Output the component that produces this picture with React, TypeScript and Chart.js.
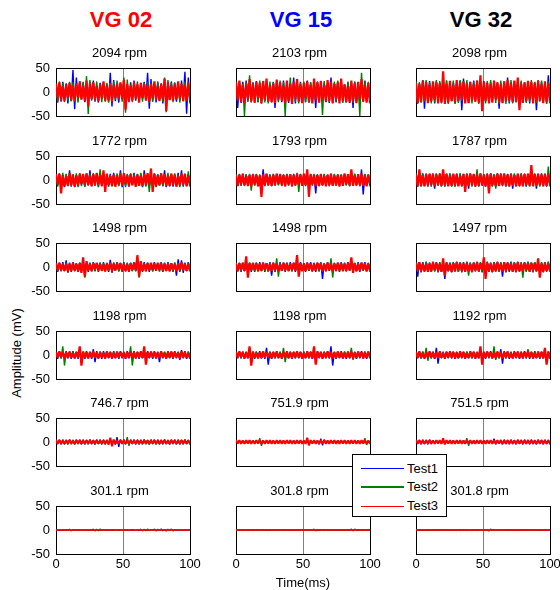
import React, { useEffect, useRef } from "react";
import { Chart, registerables } from "chart.js";

Chart.register(...registerables);

const FONT = "'Liberation Sans', Arial, Helvetica, sans-serif";

// ---------------- data ----------------
const groupNames = ["VG 02", "VG 15", "VG 32"];
const speedsVG02 = ["2094", "1772", "1498", "1198", "746.7", "301.1"];
const speedsVG15 = ["2103", "1793", "1498", "1198", "751.9", "301.8"];
const speedsVG32 = ["2098", "1787", "1497", "1192", "751.5", "301.8"];
const testNames = ["Test1", "Test2", "Test3"];
const yTickValues = [-50, 0, 50];
const xTickValues = [0, 50, 100];
const yLabel = "Amplitude (mV)";
const xLabel = "Time(ms)";
const SAMPLE_COUNT = 80;
// sample instants (ms) of the 80 recorded samples in each 100 ms trace
const timeMs = Array.from({ length: SAMPLE_COUNT }, (_, i) => (i * 100) / (SAMPLE_COUNT - 1));

// ---- VG 02 ----
const vg02_2094_t1 = [
  19, -22, 15, -20, 21, -14, 18, -24, 16, -19,
  46, -36, 30, -18, 22, -15, 20, -21, 14, -19,
  21, -16, 24, -20, 15, -22, 19, -14, 20, -18,
  16, -21, 40, -30, 25, -19, 14, -22, 18, -15,
  22, -19, 16, -21, 20, -14, 24, -18, 15, -20,
  19, -15, 21, -16, 40, -35, 27, -20, 16, -22,
  20, -14, 18, -24, 15, -19, 21, -16, 22, -15,
  14, -20, 19, -18, 24, -16, 42, -45, 30, -24];
const vg02_2094_t2 = [
  16, -20, 22, -15, 19, -21, 14, -18, 21, -19,
  20, -16, 15, -22, 18, -14, 21, -19, 33, -46,
  25, -18, 20, -15, 22, -19, 16, -21, 14, -20,
  19, -22, 15, -18, 21, -16, 24, -14, 18, -20,
  30, -43, 26, -19, 16, -21, 20, -15, 22, -18,
  15, -20, 19, -16, 21, -22, 14, -19, 18, -15,
  22, -18, 16, -20, 30, -42, 25, -16, 19, -21,
  20, -15, 18, -22, 14, -19, 21, -16, 15, -20];
const vg02_2094_t3 = [
  17, -13, 20, -18, 12, -19, 16, -11, 19, -17,
  14, -20, 18, -12, 22, -16, 13, -19, 24, -30,
  18, -14, 20, -17, 11, -19, 16, -13, 22, -18,
  13, -17, 19, -20, 14, -12, 18, -16, 20, -14,
  26, -37, 17, -19, 13, -18, 20, -14, 16, -22,
  19, -12, 17, -18, 14, -20, 18, -13, 22, -16,
  12, -19, 17, -14, 28, -40, 20, -17, 13, -18,
  18, -16, 22, -13, 17, -19, 14, -18, 20, -17];
const vg02_1772_t1 = [
  13, -11, 14, -12, 10, -15, 12, -13, 20, -14,
  12, -15, 11, -13, 14, -10, 13, -14, 12, -11,
  20, -13, 14, -12, 11, -15, 13, -10, 14, -12,
  12, -14, 13, -11, 15, -13, 10, -12, 20, -15,
  14, -12, 11, -14, 13, -10, 15, -13, 12, -11,
  13, -15, 20, -12, 11, -14, 13, -10, 14, -13,
  12, -11, 14, -13, 20, -15, 11, -12, 13, -14,
  10, -13, 15, -12, 20, -14, 12, -11, 13, -12];
const vg02_1772_t2 = [
  12, -14, 11, -13, 15, -12, 13, -11, 14, -13,
  11, -12, 14, -15, 12, -13, 10, -14, 13, -12,
  14, -11, 13, -12, 15, -14, 22, -13, 11, -15,
  13, -12, 10, -14, 12, -11, 14, -13, 15, -12,
  11, -15, 13, -12, 14, -10, 12, -14, 13, -11,
  15, -13, 12, -14, 11, -25, 13, -12, 14, -15,
  12, -11, 14, -13, 10, -12, 15, -14, 13, -11,
  14, -12, 11, -15, 13, -12, 14, -13, 18, -14];
const vg02_1772_t3 = [
  12, -9, 13, -28, 10, -13, 8, -12, 14, -10,
  11, -14, 9, -12, 13, -8, 12, -11, 14, -10,
  9, -13, 12, -10, 14, -9, 11, -13, 20, -25,
  13, -10, 8, -12, 11, -14, 10, -9, 13, -11,
  14, -8, 10, -13, 12, -11, 9, -14, 11, -12,
  8, -12, 13, -10, 14, -9, 24, -25, 12, -13,
  10, -11, 14, -8, 12, -13, 9, -12, 13, -10,
  11, -14, 8, -11, 13, -9, 12, -13, 10, -12];
const vg02_1498_t1 = [
  9, -10, 8, -9, 10, -8, 14, -12, 9, -10,
  10, -9, 8, -10, 9, -8, 10, -9, 8, -10,
  9, -8, 10, -9, 8, -10, 9, -8, 10, -9,
  8, -10, 15, -12, 9, -8, 10, -9, 8, -10,
  10, -9, 8, -10, 9, -8, 10, -9, 8, -10,
  9, -10, 10, -8, 9, -10, 8, -9, 10, -8,
  8, -9, 10, -10, 9, -8, 10, -9, 8, -10,
  9, -18, 16, -10, 14, -12, 9, -8, 10, -9];
const vg02_1498_t2 = [
  8, -9, 9, -8, 8, -9, 9, -8, 8, -9,
  9, -8, 8, -9, 9, -8, 10, -22, 9, -8,
  8, -9, 9, -8, 8, -9, 9, -8, 8, -9,
  9, -8, 8, -9, 9, -8, 8, -9, 9, -8,
  8, -9, 9, -8, 8, -9, 9, -8, 10, -22,
  9, -8, 8, -9, 9, -8, 8, -9, 9, -8,
  8, -9, 9, -8, 8, -9, 9, -8, 8, -9,
  9, -8, 8, -9, 9, -8, 8, -9, 9, -8];
const vg02_1498_t3 = [
  8, -6, 9, -7, 5, -8, 7, -9, 6, -8,
  9, -7, 6, -9, 8, -12, 20, -20, 12, -7,
  6, -9, 8, -5, 9, -7, 7, -8, 5, -9,
  8, -6, 9, -8, 6, -7, 9, -5, 8, -9,
  7, -8, 5, -9, 8, -6, 9, -7, 25, -20,
  12, -8, 6, -9, 8, -7, 9, -6, 7, -8,
  9, -5, 8, -9, 6, -8, 7, -9, 8, -6,
  5, -9, 8, -7, 9, -6, 7, -8, 6, -9];
const vg02_1198_t1 = [
  7, -8, 8, -7, 7, -8, 8, -7, 7, -8,
  8, -7, 7, -8, 8, -7, 7, -8, 8, -7,
  7, -8, 12, -15, 8, -7, 7, -8, 8, -7,
  8, -7, 7, -8, 8, -7, 7, -8, 8, -7,
  7, -8, 8, -7, 7, -8, 8, -7, 7, -8,
  8, -7, 7, -8, 8, -7, 7, -8, 8, -7,
  7, -15, 8, -7, 7, -8, 8, -7, 7, -8,
  8, -7, 7, -10, 10, -7, 8, -8, 7, -8];
const vg02_1198_t2 = [
  7, -6, 6, -7, 18, -22, 7, -6, 6, -7,
  7, -6, 6, -7, 7, -6, 6, -7, 7, -6,
  6, -7, 7, -6, 6, -7, 7, -6, 6, -7,
  7, -6, 6, -7, 7, -6, 6, -7, 7, -6,
  6, -7, 7, -6, 18, -22, 7, -6, 6, -7,
  7, -6, 6, -7, 7, -6, 6, -7, 7, -6,
  6, -7, 7, -6, 6, -7, 7, -6, 6, -7,
  7, -6, 6, -7, 7, -6, 6, -7, 7, -6];
const vg02_1198_t3 = [
  6, -5, 7, -4, 6, -7, 5, -6, 7, -5,
  4, -7, 6, -5, 18, -22, 7, -6, 5, -7,
  6, -4, 7, -6, 5, -7, 6, -5, 4, -7,
  7, -5, 6, -7, 4, -6, 7, -5, 6, -4,
  5, -7, 6, -6, 7, -4, 5, -7, 6, -5,
  7, -6, 18, -20, 6, -5, 7, -4, 6, -7,
  5, -6, 7, -5, 4, -7, 6, -5, 7, -6,
  6, -4, 5, -7, 7, -5, 6, -6, 4, -7];
const vg02_747_t1 = [
  5, -4, 4, -5, 5, -4, 4, -5, 5, -4,
  4, -5, 5, -4, 4, -5, 5, -4, 4, -5,
  5, -4, 4, -5, 5, -4, 4, -5, 5, -4,
  4, -5, 5, -4, 4, -5, 10, -10, 5, -4,
  5, -4, 4, -5, 5, -4, 4, -5, 5, -4,
  4, -5, 5, -4, 4, -5, 5, -4, 4, -5,
  5, -4, 4, -5, 5, -4, 4, -5, 5, -4,
  4, -5, 5, -4, 4, -5, 5, -4, 4, -5];
const vg02_747_t2 = [
  4, -4, 5, -4, 4, -5, 4, -4, 5, -4,
  4, -5, 4, -4, 5, -4, 4, -5, 4, -4,
  5, -4, 4, -5, 4, -4, 5, -4, 4, -5,
  4, -4, 5, -4, 4, -5, 4, -4, 5, -4,
  4, -5, 10, -8, 4, -4, 5, -4, 4, -5,
  4, -4, 5, -4, 4, -5, 4, -4, 5, -4,
  4, -5, 4, -4, 5, -4, 4, -5, 4, -4,
  5, -4, 4, -5, 4, -4, 5, -4, 4, -5];
const vg02_747_t3 = [
  4, -3, 4, -4, 3, -4, 4, -3, 4, -4,
  3, -4, 4, -3, 4, -4, 3, -4, 4, -3,
  4, -4, 3, -4, 4, -3, 4, -4, 3, -4,
  4, -5, 9, -9, 5, -4, 3, -4, 4, -3,
  4, -4, 3, -4, 4, -3, 4, -4, 3, -4,
  4, -3, 4, -4, 3, -4, 4, -3, 4, -4,
  3, -4, 4, -3, 4, -4, 3, -4, 4, -3,
  4, -4, 3, -4, 4, -3, 4, -4, 3, -4];
const vg02_301_t1 = [
  0.5, -0.4, 0.4, -0.5, 0.5, -0.4, 0.4, -0.5, 1.5, -1.5,
  0.4, -0.5, 0.5, -0.4, 0.4, -0.5, 0.5, -0.4, 0.4, -0.5,
  0.5, -0.4, 0.4, -0.5, 0.5, -0.4, 0.4, -0.5, 0.5, -0.4,
  0.4, -0.5, 0.5, -0.4, 0.4, -0.5, 0.5, -0.4, 0.4, -0.5,
  0.5, -0.4, 0.4, -0.5, 0.5, -0.4, 0.4, -0.5, 0.5, -0.4,
  0.4, -0.5, 0.5, -0.4, 0.4, -0.5, 0.5, -0.4, 2, -2,
  1.5, -1, 2, -1.5, 1, -2, 1.5, -1, 2, -2,
  0.5, -0.4, 0.4, -0.5, 0.5, -0.4, 0.4, -0.5, 0.5, -0.4];
const vg02_301_t2 = [
  0.4, -0.5, 0.5, -0.4, 0.4, -0.5, 0.5, -0.4, 0.4, -0.5,
  0.5, -0.4, 0.4, -0.5, 0.5, -0.4, 0.4, -0.5, 0.5, -0.4,
  0.4, -0.5, 2, -2, 1.5, -1.5, 2, -0.5, 0.5, -0.4,
  0.4, -0.5, 0.5, -0.4, 0.4, -0.5, 0.5, -0.4, 0.4, -0.5,
  0.5, -0.4, 0.4, -0.5, 0.5, -0.4, 0.4, -0.5, 0.5, -0.4,
  2, -2, 1.5, -1.5, 2, -0.5, 0.5, -0.4, 0.4, -0.5,
  0.5, -0.4, 0.4, -0.5, 0.5, -0.4, 0.4, -0.5, 0.5, -0.4,
  0.4, -0.5, 0.5, -0.4, 0.4, -0.5, 0.5, -0.4, 0.4, -0.5];
const vg02_301_t3 = [
  0.3, -0.3, 0.4, -0.3, 0.3, -0.4, 0.3, -0.3, 0.4, -0.3,
  0.3, -0.4, 0.3, -0.3, 0.4, -0.3, 0.3, -0.4, 0.3, -0.3,
  0.4, -0.3, 0.3, -0.4, 0.3, -0.3, 0.4, -0.3, 0.3, -0.4,
  0.3, -0.3, 0.4, -0.3, 0.3, -0.4, 0.3, -0.3, 0.4, -0.3,
  0.3, -0.4, 0.3, -0.3, 0.4, -0.3, 0.3, -0.4, 0.3, -0.3,
  0.4, -0.3, 0.3, -0.4, 0.3, -0.3, 0.4, -0.3, 0.3, -0.4,
  0.3, -0.3, 0.4, -0.3, 0.3, -0.4, 0.3, -0.3, 0.4, -0.3,
  0.3, -0.4, 0.3, -0.3, 0.4, -0.3, 0.3, -0.4, 0.3, -0.3];

// ---- VG 15 ----
const vg15_2103_t1 = [
  22, -33, 19, -23, 21, -17, 24, -20, 18, -22,
  20, -16, 23, -21, 17, -24, 19, -18, 22, -20,
  16, -22, 21, -33, 23, -19, 17, -21, 24, -18,
  19, -23, 15, -20, 30, -24, 20, -17, 21, -23,
  18, -21, 24, -16, 20, -22, 17, -33, 22, -19,
  23, -18, 19, -21, 16, -23, 30, -20, 18, -22,
  21, -17, 24, -19, 15, -22, 20, -23, 18, -33,
  22, -19, 17, -23, 21, -18, 24, -20, 16, -22];
const vg15_2103_t2 = [
  21, -18, 23, -20, 17, -50, 22, -19, 35, -21,
  19, -23, 16, -21, 24, -18, 20, -22, 17, -24,
  22, -17, 20, -23, 18, -21, 24, -16, 21, -50,
  23, -19, 30, -22, 17, -20, 21, -24, 19, -18,
  22, -21, 16, -23, 20, -18, 24, -17, 21, -22,
  18, -48, 23, -20, 19, -22, 17, -24, 22, -19,
  24, -18, 21, -23, 16, -20, 22, -19, 18, -23,
  20, -22, 17, -50, 40, -21, 23, -18, 21, -20];
const vg15_2103_t3 = [
  20, -17, 24, -21, 15, -23, 18, -14, 27, -19,
  16, -22, 21, -13, 19, -24, 23, -16, 28, -20,
  14, -21, 18, -23, 26, -15, 20, -18, 13, -22,
  24, -19, 17, -25, 21, -14, 27, -20, 16, -23,
  19, -13, 22, -21, 15, -24, 28, -17, 20, -22,
  23, -16, 14, -20, 25, -18, 21, -23, 17, -15,
  20, -24, 28, -19, 16, -21, 13, -22, 24, -18,
  18, -23, 21, -14, 27, -20, 15, -22, 19, -24];
const vg15_1793_t1 = [
  12, -13, 11, -12, 13, -10, 12, -13, 11, -12,
  13, -11, 12, -13, 10, -12, 22, -13, 12, -11,
  11, -13, 13, -12, 12, -11, 13, -10, 12, -13,
  12, -12, 11, -13, 13, -11, 12, -12, 13, -10,
  11, -13, 12, -11, 13, -12, 10, -28, 12, -13,
  13, -11, 12, -12, 11, -13, 13, -12, 12, -11,
  12, -13, 11, -12, 13, -10, 12, -13, 11, -12,
  13, -11, 12, -13, 22, -30, 12, -12, 11, -13];
const vg15_1793_t2 = [
  12, -11, 13, -12, 11, -13, 12, -10, 13, -22,
  11, -12, 13, -11, 12, -13, 10, -12, 13, -11,
  12, -13, 11, -12, 13, -10, 12, -13, 11, -12,
  13, -11, 12, -13, 11, -12, 15, -25, 12, -11,
  13, -12, 11, -13, 12, -10, 13, -12, 11, -13,
  12, -11, 13, -12, 10, -13, 12, -11, 13, -12,
  11, -13, 12, -10, 13, -12, 11, -13, 12, -11,
  13, -12, 11, -13, 12, -11, 13, -10, 12, -13];
const vg15_1793_t3 = [
  10, -12, 11, -9, 13, -11, 8, -12, 10, -13,
  12, -9, 11, -13, 9, -35, 12, -10, 13, -11,
  9, -12, 11, -10, 13, -8, 12, -11, 10, -13,
  11, -9, 12, -13, 10, -11, 13, -9, 11, -12,
  13, -10, 22, -35, 12, -9, 11, -13, 10, -12,
  12, -11, 9, -13, 11, -10, 13, -12, 9, -11,
  11, -13, 10, -12, 13, -9, 12, -11, 22, -12,
  9, -11, 12, -10, 13, -12, 10, -13, 11, -9];
const vg15_1498_t1 = [
  10, -9, 9, -10, 8, -9, 10, -8, 9, -10,
  8, -10, 9, -9, 10, -8, 9, -10, 8, -9,
  10, -18, 9, -10, 8, -9, 10, -8, 9, -10,
  9, -8, 10, -9, 8, -10, 9, -9, 10, -8,
  8, -10, 9, -8, 10, -9, 8, -10, 9, -9,
  10, -25, 8, -9, 10, -8, 9, -10, 8, -9,
  9, -10, 10, -8, 9, -9, 10, -8, 9, -10,
  8, -9, 10, -10, 9, -8, 10, -9, 8, -10];
const vg15_1498_t2 = [
  9, -8, 8, -9, 9, -8, 8, -9, 9, -8,
  8, -9, 9, -8, 8, -9, 9, -8, 8, -9,
  9, -8, 8, -9, 18, -20, 9, -8, 8, -9,
  9, -8, 8, -9, 9, -8, 8, -9, 9, -8,
  8, -9, 9, -8, 8, -9, 9, -8, 8, -9,
  9, -8, 8, -9, 9, -8, 18, -22, 9, -8,
  8, -9, 9, -8, 8, -9, 9, -8, 8, -9,
  9, -8, 8, -9, 9, -8, 8, -9, 9, -8];
const vg15_1498_t3 = [
  7, -9, 8, -6, 9, -8, 22, -22, 8, -7,
  9, -6, 8, -9, 7, -8, 9, -5, 8, -9,
  6, -8, 9, -7, 8, -9, 5, -8, 9, -7,
  8, -9, 7, -6, 9, -8, 25, -20, 8, -9,
  7, -8, 9, -6, 8, -9, 7, -8, 9, -5,
  8, -9, 6, -8, 9, -7, 8, -9, 7, -8,
  9, -7, 8, -9, 6, -8, 9, -7, 20, -12,
  8, -9, 7, -8, 9, -6, 8, -9, 7, -8];
const vg15_1198_t1 = [
  7, -7, 8, -7, 7, -8, 7, -7, 8, -7,
  7, -8, 7, -7, 8, -7, 7, -8, 15, -20,
  7, -8, 7, -7, 8, -7, 7, -8, 7, -7,
  8, -7, 7, -8, 7, -7, 8, -7, 7, -8,
  7, -7, 8, -7, 7, -8, 7, -7, 8, -7,
  7, -8, 7, -7, 8, -7, 18, -22, 7, -8,
  7, -7, 8, -7, 7, -8, 7, -7, 8, -7,
  7, -8, 7, -7, 8, -7, 7, -8, 7, -7];
const vg15_1198_t2 = [
  7, -6, 6, -7, 7, -6, 6, -7, 7, -6,
  6, -7, 7, -6, 6, -7, 7, -6, 6, -7,
  7, -6, 6, -7, 7, -6, 6, -7, 15, -15,
  6, -7, 7, -6, 6, -7, 7, -6, 6, -7,
  7, -6, 6, -7, 7, -6, 6, -7, 7, -6,
  6, -7, 7, -6, 6, -7, 7, -6, 6, -7,
  7, -6, 6, -7, 7, -6, 6, -7, 15, -10,
  6, -7, 7, -6, 6, -7, 7, -6, 6, -7];
const vg15_1198_t3 = [
  6, -5, 7, -4, 6, -7, 5, -6, 18, -22,
  7, -5, 4, -7, 6, -6, 7, -5, 6, -4,
  5, -7, 6, -5, 7, -6, 4, -7, 6, -5,
  7, -6, 5, -7, 6, -4, 7, -5, 6, -7,
  4, -6, 7, -5, 6, -7, 18, -20, 7, -5,
  6, -7, 5, -6, 7, -4, 6, -7, 5, -6,
  7, -5, 6, -7, 4, -6, 7, -5, 6, -7,
  5, -6, 7, -4, 6, -7, 5, -6, 7, -5];
const vg15_752_t1 = [
  2, -2, 2, -2, 2, -2, 2, -2, 2, -2,
  2, -2, 2, -2, 2, -2, 2, -2, 2, -2,
  2, -2, 2, -2, 2, -2, 2, -2, 2, -2,
  2, -2, 2, -2, 2, -2, 2, -2, 2, -2,
  2, -2, 2, -2, 2, -2, 2, -2, 2, -5,
  7, -7, 5, -2, 2, -2, 2, -2, 2, -2,
  2, -2, 2, -2, 2, -2, 2, -2, 2, -2,
  2, -2, 2, -2, 2, -2, 2, -2, 2, -2];
const vg15_752_t2 = [
  2, -2, 2, -2, 2, -2, 2, -2, 2, -2,
  2, -2, 2, -2, 8, -8, 2, -2, 2, -2,
  2, -2, 2, -2, 2, -2, 2, -2, 2, -2,
  2, -2, 2, -2, 2, -2, 2, -2, 2, -2,
  2, -2, 2, -2, 2, -2, 2, -2, 2, -2,
  2, -2, 2, -2, 2, -2, 2, -2, 2, -2,
  2, -2, 2, -2, 2, -2, 2, -2, 2, -2,
  2, -2, 2, -2, 2, -2, 8, -6, 2, -2];
const vg15_752_t3 = [
  4, -3, 4, -4, 3, -4, 4, -3, 4, -4,
  3, -4, 4, -3, 4, -4, 3, -4, 4, -3,
  4, -4, 3, -4, 4, -3, 4, -4, 3, -4,
  4, -3, 4, -4, 3, -4, 4, -3, 4, -4,
  3, -4, 9, -7, 4, -3, 4, -4, 3, -4,
  4, -3, 4, -4, 3, -4, 4, -3, 4, -4,
  3, -4, 4, -3, 4, -4, 3, -4, 4, -3,
  4, -4, 3, -4, 4, -3, 4, -4, 3, -4];
const vg15_302_t1 = [
  0.4, -0.4, 0.4, -0.4, 0.4, -0.4, 0.4, -0.4, 0.4, -0.4,
  0.4, -0.4, 0.4, -0.4, 0.4, -0.4, 0.4, -0.4, 0.4, -0.4,
  0.4, -0.4, 0.4, -0.4, 0.4, -0.4, 0.4, -0.4, 0.4, -0.4,
  0.4, -0.4, 0.4, -0.4, 0.4, -0.4, 0.4, -0.4, 0.4, -0.4,
  0.4, -0.4, 0.4, -0.4, 0.4, -0.4, 0.4, -0.4, 0.4, -0.4,
  0.4, -0.4, 0.4, -0.4, 0.4, -0.4, 0.4, -0.4, 0.4, -0.4,
  0.4, -0.4, 0.4, -0.4, 0.4, -0.4, 0.4, -0.4, 2, -2,
  2, -0.4, 0.4, -0.4, 0.4, -0.4, 0.4, -0.4, 0.4, -0.4];
const vg15_302_t2 = [
  0.4, -0.4, 0.4, -0.4, 0.4, -0.4, 0.4, -0.4, 0.4, -0.4,
  0.4, -0.4, 0.4, -0.4, 0.4, -0.4, 0.4, -0.4, 0.4, -0.4,
  0.4, -0.4, 0.4, -0.4, 0.4, -0.4, 0.4, -0.4, 0.4, -0.4,
  0.4, -0.4, 0.4, -0.4, 0.4, -0.4, 0.4, -0.4, 0.4, -0.4,
  0.4, -0.4, 0.4, -0.4, 0.4, -0.4, 2, -2, 0.4, -0.4,
  0.4, -0.4, 0.4, -0.4, 0.4, -0.4, 0.4, -0.4, 0.4, -0.4,
  0.4, -0.4, 0.4, -0.4, 0.4, -0.4, 0.4, -0.4, 0.4, -0.4,
  0.4, -0.4, 0.4, -0.4, 0.4, -0.4, 0.4, -0.4, 0.4, -0.4];
const vg15_302_t3 = [
  0.3, -0.3, 0.4, -0.3, 0.3, -0.4, 0.3, -0.3, 0.4, -0.3,
  0.3, -0.4, 0.3, -0.3, 0.4, -0.3, 0.3, -0.4, 0.3, -0.3,
  0.4, -0.3, 0.3, -0.4, 0.3, -0.3, 0.4, -0.3, 0.3, -0.4,
  0.3, -0.3, 0.4, -0.3, 0.3, -0.4, 0.3, -0.3, 0.4, -0.3,
  0.3, -0.4, 0.3, -0.3, 0.4, -0.3, 0.3, -0.4, 0.3, -0.3,
  0.4, -0.3, 0.3, -0.4, 0.3, -0.3, 0.4, -0.3, 0.3, -0.4,
  0.3, -0.3, 0.4, -0.3, 0.3, -0.4, 0.3, -0.3, 0.4, -0.3,
  0.3, -0.4, 0.3, -0.3, 0.4, -0.3, 0.3, -0.4, 0.3, -0.3];

// ---- VG 32 ----
const vg32_2098_t1 = [
  21, -23, 19, -22, 25, -35, 22, -18, 23, -20,
  18, -24, 22, -19, 20, -23, 17, -21, 24, -19,
  22, -18, 20, -24, 19, -21, 23, -38, 28, -20,
  17, -23, 21, -19, 24, -18, 20, -22, 19, -24,
  23, -20, 18, -22, 21, -19, 24, -17, 20, -35,
  19, -23, 22, -18, 30, -24, 20, -21, 17, -22,
  24, -19, 21, -23, 18, -20, 22, -24, 19, -21,
  20, -38, 23, -18, 21, -22, 19, -24, 35, -23];
const vg32_2098_t2 = [
  23, -25, 20, -22, 24, -19, 25, -23, 21, -24,
  19, -22, 25, -20, 23, -24, 18, -21, 24, -25,
  22, -19, 24, -25, 20, -23, 25, -18, 23, -21,
  25, -23, 19, -24, 22, -20, 24, -25, 21, -19,
  20, -24, 23, -21, 25, -19, 22, -23, 18, -25,
  24, -20, 21, -25, 19, -22, 25, -24, 23, -18,
  22, -25, 24, -19, 20, -23, 18, -21, 25, -22,
  21, -23, 25, -20, 24, -22, 19, -25, 22, -24];
const vg32_2098_t3 = [
  19, -22, 16, -20, 24, -17, 21, -23, 15, -19,
  22, -16, 20, -24, 18, -21, 43, -25, 17, -22,
  23, -19, 15, -21, 25, -18, 20, -16, 22, -24,
  18, -23, 21, -17, 16, -20, 24, -22, 35, -40,
  21, -18, 19, -24, 17, -22, 23, -15, 20, -21,
  16, -23, 22, -19, 25, -17, 18, -21, 24, -20,
  30, -38, 17, -22, 20, -19, 23, -16, 21, -24,
  19, -21, 24, -18, 16, -23, 22, -20, 18, -22];
const vg32_1787_t1 = [
  13, -14, 12, -13, 14, -12, 13, -14, 12, -13,
  14, -18, 13, -12, 14, -13, 12, -14, 13, -12,
  14, -13, 12, -14, 13, -12, 14, -13, 12, -14,
  13, -18, 14, -12, 13, -14, 12, -13, 14, -12,
  12, -14, 13, -12, 14, -13, 12, -14, 13, -12,
  14, -13, 12, -14, 13, -12, 14, -18, 12, -13,
  13, -12, 14, -13, 12, -14, 13, -12, 14, -13,
  12, -18, 13, -12, 14, -13, 12, -14, 13, -12];
const vg32_1787_t2 = [
  14, -12, 13, -14, 12, -13, 14, -12, 13, -14,
  12, -13, 14, -12, 13, -14, 12, -13, 14, -12,
  13, -14, 12, -13, 14, -12, 13, -14, 12, -13,
  14, -12, 13, -14, 12, -13, 22, -14, 13, -12,
  12, -13, 14, -12, 13, -14, 12, -18, 14, -13,
  13, -12, 14, -13, 12, -14, 13, -12, 14, -13,
  12, -14, 13, -12, 14, -13, 12, -14, 13, -12,
  14, -13, 12, -14, 13, -12, 14, -13, 28, -14];
const vg32_1787_t3 = [
  11, -13, 22, -12, 10, -13, 12, -11, 13, -9,
  12, -13, 11, -10, 13, -12, 22, -11, 12, -13,
  10, -12, 13, -11, 12, -13, 9, -12, 13, -25,
  12, -11, 13, -10, 12, -13, 11, -12, 13, -10,
  11, -13, 12, -28, 13, -11, 10, -12, 13, -12,
  12, -10, 13, -12, 11, -13, 12, -11, 10, -13,
  13, -12, 11, -13, 12, -10, 13, -12, 31, -13,
  12, -11, 13, -10, 11, -13, 12, -12, 13, -11];
const vg32_1497_t1 = [
  10, -20, 9, -11, 10, -9, 11, -10, 9, -10,
  11, -9, 10, -11, 9, -10, 11, -25, 10, -9,
  9, -11, 10, -9, 11, -10, 9, -11, 10, -9,
  11, -10, 9, -11, 10, -9, 11, -10, 9, -11,
  10, -9, 11, -10, 9, -11, 10, -9, 11, -10,
  9, -20, 10, -11, 9, -10, 11, -9, 10, -11,
  11, -10, 9, -11, 10, -9, 11, -10, 9, -11,
  10, -9, 11, -10, 9, -11, 10, -9, 11, -10];
const vg32_1497_t2 = [
  9, -10, 10, -9, 9, -10, 10, -9, 9, -10,
  10, -9, 9, -10, 10, -9, 9, -10, 10, -9,
  9, -10, 10, -9, 9, -10, 10, -9, 9, -10,
  10, -18, 9, -10, 10, -9, 9, -10, 10, -9,
  9, -10, 10, -9, 9, -10, 10, -9, 9, -10,
  10, -9, 9, -10, 10, -9, 9, -10, 10, -9,
  9, -10, 10, -22, 9, -10, 10, -9, 9, -10,
  10, -9, 9, -10, 10, -9, 9, -10, 10, -9];
const vg32_1497_t3 = [
  9, -7, 10, -8, 6, -9, 8, -10, 7, -9,
  10, -6, 9, -8, 7, -10, 18, -18, 9, -8,
  7, -10, 8, -9, 10, -6, 9, -8, 7, -10,
  9, -8, 6, -10, 8, -7, 10, -9, 8, -6,
  20, -25, 9, -8, 7, -10, 8, -9, 10, -7,
  6, -9, 10, -8, 9, -7, 8, -10, 7, -9,
  10, -8, 7, -9, 9, -6, 8, -10, 9, -7,
  8, -9, 18, -22, 7, -10, 9, -8, 6, -9];
const vg32_1192_t1 = [
  7, -7, 8, -7, 7, -8, 7, -7, 8, -7,
  7, -8, 15, -18, 8, -7, 7, -8, 7, -7,
  8, -7, 7, -8, 7, -7, 8, -7, 7, -8,
  7, -7, 8, -7, 7, -8, 7, -7, 8, -7,
  7, -8, 7, -7, 8, -7, 7, -8, 7, -7,
  12, -18, 8, -7, 7, -8, 7, -7, 8, -7,
  7, -8, 7, -7, 8, -7, 7, -8, 7, -7,
  8, -7, 7, -8, 7, -7, 8, -7, 7, -8];
const vg32_1192_t2 = [
  7, -6, 6, -7, 7, -6, 15, -12, 6, -7,
  7, -6, 6, -7, 7, -6, 6, -7, 7, -6,
  6, -7, 7, -6, 6, -7, 7, -6, 6, -7,
  7, -6, 6, -7, 7, -6, 6, -7, 7, -6,
  6, -7, 7, -6, 6, -7, 18, -10, 6, -7,
  7, -6, 6, -7, 7, -6, 6, -7, 7, -6,
  6, -7, 7, -6, 6, -7, 12, -6, 6, -7,
  7, -6, 6, -7, 7, -6, 6, -7, 7, -6];
const vg32_1192_t3 = [
  6, -5, 7, -6, 4, -7, 6, -5, 7, -4,
  5, -7, 6, -6, 7, -5, 4, -7, 6, -5,
  7, -4, 6, -7, 5, -6, 7, -5, 6, -7,
  4, -6, 7, -5, 6, -7, 5, -6, 18, -20,
  6, -5, 7, -4, 6, -7, 5, -6, 7, -5,
  5, -7, 6, -5, 7, -6, 4, -7, 6, -5,
  7, -6, 5, -7, 6, -4, 7, -5, 6, -7,
  4, -6, 7, -5, 6, -7, 15, -20, 7, -6];
const vg32_752_t1 = [
  5, -4, 4, -5, 5, -4, 4, -5, 5, -4,
  3, -3, 3, -3, 3, -3, 3, -3, 3, -3,
  3, -3, 3, -3, 3, -3, 3, -3, 3, -3,
  3, -3, 3, -3, 3, -3, 3, -3, 3, -3,
  3, -3, 3, -3, 3, -3, 7, -5, 3, -3,
  4, -5, 5, -4, 4, -5, 5, -4, 4, -5,
  5, -4, 4, -5, 5, -4, 4, -5, 5, -4,
  4, -5, 5, -4, 4, -5, 5, -4, 4, -5];
const vg32_752_t2 = [
  2, -2, 2, -2, 2, -2, 2, -2, 2, -2,
  2, -2, 2, -2, 2, -2, 2, -2, 2, -2,
  2, -2, 2, -2, 2, -2, 2, -2, 2, -2,
  8, -8, 2, -2, 2, -2, 2, -2, 2, -2,
  2, -2, 2, -2, 2, -2, 2, -2, 2, -2,
  2, -2, 2, -2, 2, -2, 2, -2, 2, -2,
  2, -2, 2, -2, 2, -2, 2, -2, 2, -2,
  2, -2, 2, -2, 2, -2, 2, -2, 2, -2];
const vg32_752_t3 = [
  4, -3, 4, -4, 3, -4, 4, -3, 4, -4,
  3, -4, 4, -3, 4, -4, 8, -5, 4, -3,
  4, -4, 3, -4, 4, -3, 4, -4, 3, -4,
  4, -3, 4, -4, 3, -4, 4, -3, 4, -4,
  3, -4, 4, -3, 4, -4, 3, -4, 4, -3,
  4, -4, 3, -4, 4, -3, 4, -4, 3, -4,
  4, -3, 4, -4, 3, -4, 4, -3, 4, -4,
  3, -4, 4, -3, 4, -4, 3, -4, 4, -3];
const vg32_302_t1 = [
  0.4, -0.4, 0.4, -0.4, 0.4, -0.4, 0.4, -0.4, 0.4, -0.4,
  0.4, -0.4, 0.4, -0.4, 0.4, -0.4, 0.4, -0.4, 0.4, -0.4,
  0.4, -0.4, 0.4, -0.4, 0.4, -0.4, 0.4, -0.4, 0.4, -0.4,
  0.4, -0.4, 0.4, -0.4, 0.4, -0.4, 0.4, -0.4, 0.4, -0.4,
  0.4, -0.4, 0.4, -2, 2, -0.4, 0.4, -0.4, 1, -1,
  0.4, -0.4, 0.4, -0.4, 0.4, -0.4, 0.4, -0.4, 0.4, -0.4,
  0.4, -0.4, 0.4, -0.4, 0.4, -0.4, 0.4, -0.4, 0.4, -0.4,
  0.4, -0.4, 0.4, -0.4, 0.4, -0.4, 0.4, -0.4, 0.4, -0.4];
const vg32_302_t2 = [
  0.4, -0.4, 0.4, -0.4, 0.4, -0.4, 0.4, -0.4, 0.4, -0.4,
  0.4, -0.4, 0.4, -0.4, 0.4, -0.4, 0.4, -0.4, 0.4, -0.4,
  0.4, -0.4, 0.4, -0.4, 0.4, -0.4, 0.4, -0.4, 0.4, -0.4,
  0.4, -0.4, 0.4, -0.4, 0.4, -0.4, 0.4, -0.4, 0.4, -0.4,
  0.4, -0.4, 0.4, -0.4, 0.4, -0.4, 0.4, -0.4, 0.4, -0.4,
  0.4, -0.4, 0.4, -0.4, 0.4, -0.4, 0.4, -0.4, 0.4, -0.4,
  0.4, -0.4, 0.4, -0.4, 0.4, -0.4, 0.4, -0.4, 0.4, -0.4,
  0.4, -0.4, 0.4, -0.4, 0.4, -0.4, 0.4, -0.4, 0.4, -0.4];
const vg32_302_t3 = [
  0.3, -0.3, 0.4, -0.3, 0.3, -0.4, 0.3, -0.3, 0.4, -0.3,
  0.3, -0.4, 0.3, -0.3, 0.4, -0.3, 0.3, -0.4, 0.3, -0.3,
  0.4, -0.3, 0.3, -0.4, 0.3, -0.3, 0.4, -0.3, 0.3, -0.4,
  0.3, -0.3, 0.4, -0.3, 0.3, -0.4, 0.3, -0.3, 0.4, -0.3,
  0.3, -0.4, 0.3, -0.3, 0.4, -0.3, 0.3, -0.4, 0.3, -0.3,
  0.4, -0.3, 0.3, -0.4, 0.3, -0.3, 0.4, -0.3, 0.3, -0.4,
  0.3, -0.3, 0.4, -0.3, 0.3, -0.4, 0.3, -0.3, 0.4, -0.3,
  0.3, -0.4, 0.3, -0.3, 0.4, -0.3, 0.3, -0.4, 0.3, -0.3];

// table built from the named arrays: [group][row][test]
const speeds = [speedsVG02, speedsVG15, speedsVG32];
const signals = [
  [
    [vg02_2094_t1, vg02_2094_t2, vg02_2094_t3],
    [vg02_1772_t1, vg02_1772_t2, vg02_1772_t3],
    [vg02_1498_t1, vg02_1498_t2, vg02_1498_t3],
    [vg02_1198_t1, vg02_1198_t2, vg02_1198_t3],
    [vg02_747_t1, vg02_747_t2, vg02_747_t3],
    [vg02_301_t1, vg02_301_t2, vg02_301_t3],
  ],
  [
    [vg15_2103_t1, vg15_2103_t2, vg15_2103_t3],
    [vg15_1793_t1, vg15_1793_t2, vg15_1793_t3],
    [vg15_1498_t1, vg15_1498_t2, vg15_1498_t3],
    [vg15_1198_t1, vg15_1198_t2, vg15_1198_t3],
    [vg15_752_t1, vg15_752_t2, vg15_752_t3],
    [vg15_302_t1, vg15_302_t2, vg15_302_t3],
  ],
  [
    [vg32_2098_t1, vg32_2098_t2, vg32_2098_t3],
    [vg32_1787_t1, vg32_1787_t2, vg32_1787_t3],
    [vg32_1497_t1, vg32_1497_t2, vg32_1497_t3],
    [vg32_1192_t1, vg32_1192_t2, vg32_1192_t3],
    [vg32_752_t1, vg32_752_t2, vg32_752_t3],
    [vg32_302_t1, vg32_302_t2, vg32_302_t3],
  ],
];

// ---------------- layout & style ----------------
const PLOT_LEFT = [56, 236, 416];
const PLOT_TOP = [68, 156, 243, 331, 418, 506];
const PLOT_W = 134;
const PLOT_H = 48;
const PAD_L = 15;
const Y_W = 35;
const Y2_W = 28;
const TITLE_H = 26;
const GROUP_COLORS = ["#ff0000", "#0000ff", "#000000"];
const TEST_COLORS = ["#0000ff", "#008000", "#ff0000"];
const LINE_WIDTHS = [
  [1.4, 1.4, 2.2],
  [1.4, 1.4, 2.2],
  [1.4, 1.4, 2.2],
  [1.4, 1.4, 2.2],
  [1.3, 1.3, 2],
  [1.2, 1.2, 1.5],
];

function Panel({ col, row }: { col: number; row: number }) {
  const ref = useRef<HTMLCanvasElement>(null);
  const isBottom = row === PLOT_TOP.length - 1;
  const isLeft = col === 0;
  const width = PAD_L + Y_W + PLOT_W + Y2_W;
  const height = TITLE_H + PLOT_H + (isBottom ? 36 : 4);

  useEffect(() => {
    if (!ref.current) return;
    const tickFont = { family: FONT, size: 13 };
    const chart = new Chart(ref.current, {
      type: "line",
      data: {
        datasets: testNames.map((name, k) => ({
          label: name,
          data: signals[col][row][k].map((v, i) => ({ x: timeMs[i], y: v })),
          borderColor: TEST_COLORS[k],
          backgroundColor: TEST_COLORS[k],
          borderWidth: LINE_WIDTHS[row][k],
          borderJoinStyle: "bevel",
          pointRadius: 0,
          tension: 0,
          fill: false,
          order: 3 - k,
        })),
      },
      options: {
        animation: false,
        responsive: false,
        maintainAspectRatio: false,
        events: [],
        layout: { padding: { left: PAD_L, right: 0, top: 0, bottom: isBottom ? 0 : 4 } },
        plugins: {
          legend: { display: false },
          tooltip: { enabled: false },
          title: {
            display: true,
            text: `${speeds[col][row]} rpm`,
            color: "#000",
            font: { family: FONT, size: 13, weight: "normal", lineHeight: "15px" },
            padding: { top: 4, bottom: 7 },
          },
        },
        scales: {
          x: {
            type: "linear",
            position: "bottom",
            min: 0,
            max: 100,
            afterBuildTicks: (s: any) => {
              s.ticks = xTickValues.map((v) => ({ value: v }));
            },
            afterFit: (s: any) => {
              s.height = isBottom ? 36 : 0;
              s.paddingLeft = 0;
              s.paddingRight = 0;
            },
            ticks: { display: isBottom, color: "#000", font: tickFont, padding: 3, maxRotation: 0, autoSkip: false },
            grid: {
              display: true,
              drawTicks: false,
              lineWidth: 1,
              color: (c: any) => (c.tick && c.tick.value === 50 ? "#808080" : "rgba(0,0,0,0)"),
            },
            border: { display: true, color: "#000", width: 1 },
            title: {
              display: isBottom && col === 1,
              text: xLabel,
              color: "#000",
              font: { family: FONT, size: 13, lineHeight: "14px" },
              padding: { top: 0, bottom: 0 },
            },
          },
          x2: {
            type: "linear",
            axis: "x",
            position: "top",
            min: 0,
            max: 100,
            ticks: { display: false },
            grid: { display: false, drawTicks: false },
            border: { display: true, color: "#000", width: 1 },
            afterFit: (s: any) => {
              s.height = 0;
              s.paddingLeft = 0;
              s.paddingRight = 0;
            },
          },
          y: {
            type: "linear",
            position: "left",
            min: -50,
            max: 50,
            afterBuildTicks: (s: any) => {
              s.ticks = yTickValues.map((v) => ({ value: v }));
            },
            afterFit: (s: any) => {
              s.width = Y_W;
              s.paddingTop = 0;
              s.paddingBottom = 0;
            },
            ticks: { display: isLeft, color: "#000", font: tickFont, padding: 6 },
            grid: { display: false, drawTicks: false },
            border: { display: true, color: "#000", width: 1 },
          },
          y2: {
            type: "linear",
            axis: "y",
            position: "right",
            min: -50,
            max: 50,
            ticks: { display: false },
            grid: { display: false, drawTicks: false },
            border: { display: true, color: "#000", width: 1 },
            afterFit: (s: any) => {
              s.width = Y2_W;
              s.paddingTop = 0;
              s.paddingBottom = 0;
            },
          },
        },
      } as any,
    });
    return () => chart.destroy();
  }, [col, row]);

  return (
    <canvas
      ref={ref}
      width={width}
      height={height}
      style={{
        position: "absolute",
        left: PLOT_LEFT[col] - PAD_L - Y_W,
        top: PLOT_TOP[row] - TITLE_H,
        width,
        height,
      }}
    />
  );
}

const LEGEND_ROW_Y = [13.7, 32, 51];
const LEGEND_LINE_H = [1, 2, 1];

export default function App() {
  const panels: React.ReactNode[] = [];
  for (let c = 0; c < groupNames.length; c++) {
    for (let r = 0; r < PLOT_TOP.length; r++) {
      panels.push(<Panel key={`${c}-${r}`} col={c} row={r} />);
    }
  }
  return (
    <div
      style={{
        position: "absolute",
        left: 0,
        top: 0,
        width: 560,
        height: 590,
        overflow: "hidden",
        background: "#fff",
        fontFamily: FONT,
        color: "#000",
      }}
    >
      {groupNames.map((g, c) => (
        <div
          key={g}
          style={{
            position: "absolute",
            left: PLOT_LEFT[c] + PLOT_W / 2 - 2 - 60,
            top: 9,
            width: 120,
            textAlign: "center",
            fontSize: 22,
            lineHeight: "22px",
            fontWeight: "bold",
            color: GROUP_COLORS[c],
          }}
        >
          {g}
        </div>
      ))}
      <div
        style={{
          position: "absolute",
          left: 17 - 60,
          top: 353 - 8,
          width: 120,
          height: 16,
          lineHeight: "16px",
          fontSize: 13,
          textAlign: "center",
          transform: "rotate(-90deg)",
          whiteSpace: "nowrap",
        }}
      >
        {yLabel}
      </div>
      {panels}
      <div
        style={{
          position: "absolute",
          left: 352,
          top: 454,
          width: 95,
          height: 63,
          boxSizing: "border-box",
          border: "1px solid #000",
          background: "#fff",
          zIndex: 5,
        }}
      >
        {testNames.map((n, k) => (
          <div key={n} style={{ position: "absolute", left: 0, top: LEGEND_ROW_Y[k] - 8, width: "100%", height: 16 }}>
            <div
              style={{
                position: "absolute",
                left: 8,
                top: 8 - LEGEND_LINE_H[k] / 2,
                width: 43,
                height: LEGEND_LINE_H[k],
                background: TEST_COLORS[k],
              }}
            />
            <div style={{ position: "absolute", left: 54, top: 0, lineHeight: "16px", fontSize: 13, whiteSpace: "nowrap" }}>
              {n}
            </div>
          </div>
        ))}
      </div>
    </div>
  );
}
